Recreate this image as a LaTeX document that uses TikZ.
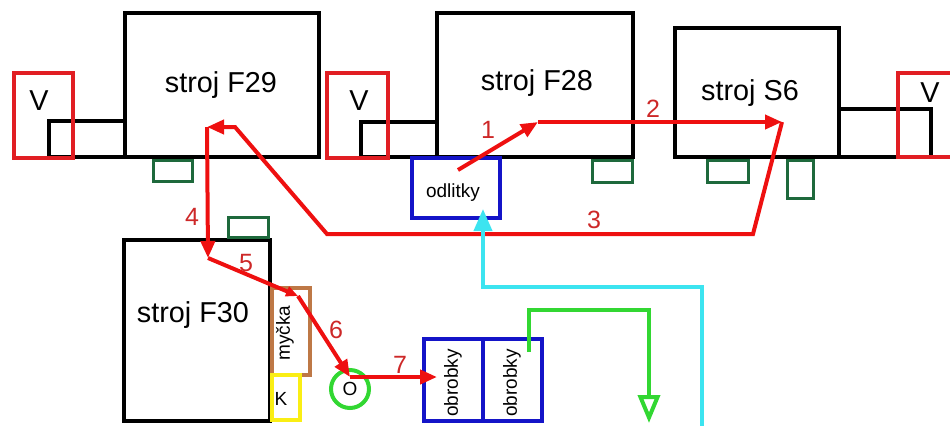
\documentclass[tikz,border=0pt]{standalone}
\usepackage{fontspec}
\setmainfont{Liberation Sans}
\usepackage{tikz}
\usetikzlibrary{arrows.meta, fit}
\definecolor{tankred}{RGB}{225,30,35}
\definecolor{flowred}{RGB}{238,16,16}
\definecolor{numred}{RGB}{205,40,40}
\definecolor{padgreen}{RGB}{30,105,60}
\definecolor{storeblue}{RGB}{20,20,200}
\definecolor{washbrown}{RGB}{190,120,70}
\definecolor{boxyellow}{RGB}{250,238,20}
\definecolor{ringgreen}{RGB}{50,215,50}
\definecolor{flowcyan}{RGB}{60,228,240}

\begin{document}
\begin{tikzpicture}[
    x=0.5pt, y=-0.5pt,
    machine/.style={draw=black, line width=2pt, inner sep=0pt},
    feeder/.style={draw=black, line width=2pt, inner sep=0pt},
    tank/.style={draw=tankred, line width=2pt, inner sep=0pt},
    pad/.style={draw=padgreen, line width=1.5pt, inner sep=0pt},
    store/.style={draw=storeblue, line width=2pt, inner sep=0pt},
    mlabel/.style={anchor=base, inner sep=0pt, font=\fontsize{14.4}{17}\selectfont},
    small/.style={inner sep=0pt, font=\fontsize{9.5}{11}\selectfont},
    num/.style={anchor=base, inner sep=0pt, text=numred, font=\fontsize{12.5}{15}\selectfont},
    flow/.style={draw=flowred, line width=2pt, -{Triangle[length=8.5pt,width=7pt]}},
    ring/.style={circle, draw=ringgreen, line width=2pt, minimum size=19pt, inner sep=0pt, font=\fontsize{9.5}{11}\selectfont}
]
\useasboundingbox (0,0) rectangle (950,425);
\clip (0,0) rectangle (950,425);

% Feeders
\node[feeder, fit={(49,121) (125,157)}] (fd29) {};
\node[feeder, fit={(361,122) (437,157)}] (fd28) {};
\node[feeder, fit={(839,109) (931,157)}] (fd6) {};

% Machines
\node[machine, fit={(125,13) (319,157)}] (f29) {};
\node[machine, fit={(437,13) (633,157)}] (f28) {};
\node[machine, fit={(675,28) (839,157)}] (s6) {};
\node[machine, fit={(124,240) (270,421)}] (f30) {};
\node[mlabel] (tf29) at (221,92) {stroj F29};
\node[mlabel] (tf28) at (537,90) {stroj F28};
\node[mlabel] (ts6) at (750,100) {stroj S6};
\node[mlabel] (tf30) at (193,322) {stroj F30};

% Tanks
\node[tank, fit={(14,73) (73,158)}] (v29) {};
\node[tank, fit={(327,73) (388,158)}] (v28) {};
\node[tank, fit={(898,73) (980,157)}] (v6) {};
\node[mlabel] (tv29) at (39,110) {V};
\node[mlabel] (tv28) at (359,110) {V};
\node[mlabel] (tv6) at (930,102) {V};

% Pads
\node[pad, fit={(153,160) (192,181)}] (pd29) {};
\node[pad, fit={(228,217) (268,237)}] (pd30) {};
\node[pad, fit={(592,160) (632,182)}] (pd28) {};
\node[pad, fit={(707,160) (748,182)}] (pd6a) {};
\node[pad, fit={(787,160) (813,198)}] (pd6b) {};

% Stores
\node[store, fit={(412,158) (500,218)}] (odl) {};
\node[small, anchor=base] (todl) at (453,197) {odlitky};
\node[store, fit={(424,339) (483,421)}] (ob1) {};
\node[store, fit={(483,339) (542,421)}] (ob2) {};
\node[small, rotate=90] (tob1) at (453,383) {obrobky};
\node[small, rotate=90] (tob2) at (512,383) {obrobky};

% Washer, K and O
\node[draw=washbrown, line width=2pt, inner sep=0pt, fit={(272,288) (310,375)}] (wash) {};
\node[small, rotate=90] (twash) at (285,333) {myčka};
\node[draw=boxyellow, line width=2pt, inner sep=0pt, fit={(272,375) (300,420)}] (kbox) {};
\node[small, anchor=base] (tk) at (281,405) {K};
\node[ring] (o) at (350,389) {O};

% Path points
\coordinate (p1) at (458,170);
\coordinate (p2) at (538,122);
\coordinate (p3) at (782,122);
\coordinate (p3a) at (753,234);
\coordinate (p3b) at (327,234);
\coordinate (p3c) at (235,127);
\coordinate (p4) at (207,127);
\coordinate (p5) at (208,258);
\coordinate (p6) at (298,296);
\coordinate (p7) at (350,377);
\coordinate (p8) at (437,377);

% Transitions
\draw[flow] (p1) -- (p2);
\draw[flow] (p2) -- (p3);
\draw[flow] (p3) -- (p3a) -- (p3b) -- (p3c) -- (p4);
\draw[flow] (p4) -- (p5);
\draw[draw=flowred, line width=2pt, -{Triangle[length=6pt,width=5pt]}] (p5) -- (p6);
\draw[flow] (p6) -- (p7);
\draw[flow] (p7) -- (p8);

\node[num] (n1) at (488,138) {1};
\node[num] (n2) at (653,117) {2};
\node[num] (n3) at (594,228) {3};
\node[num] (n4) at (192,225) {4};
\node[num] (n5) at (246,271) {5};
\node[num] (n6) at (336,338) {6};
\node[num] (n7) at (400,373) {7};

% Supply and output
\coordinate (c0) at (702,440);
\coordinate (c1) at (702,287);
\coordinate (c2) at (483,287);
\coordinate (c3) at (483,209);
\draw[draw=flowcyan, line width=2pt, -{Triangle[length=11pt,width=9pt]}] (c0) -- (c1) -- (c2) -- (c3);

\coordinate (g0) at (529,352);
\coordinate (g1) at (529,310);
\coordinate (g2) at (649,310);
\coordinate (g3) at (649,423);
\draw[draw=ringgreen, line width=2pt, -{Triangle[open,length=14pt,width=11pt]}] (g0) -- (g1) -- (g2) -- (g3);

\end{tikzpicture}
\end{document}
